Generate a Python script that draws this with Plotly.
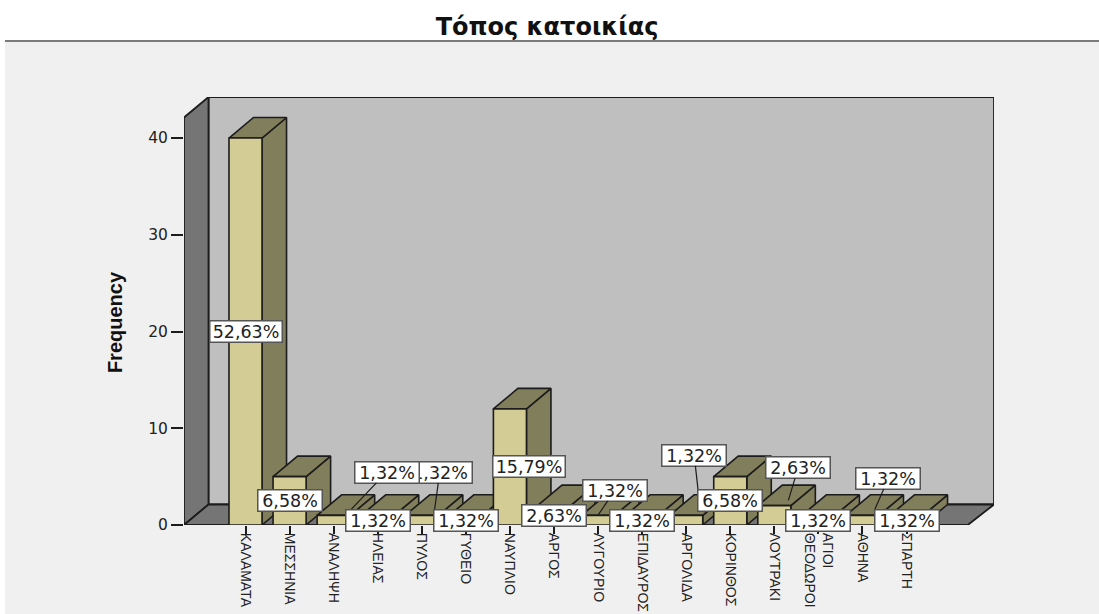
import plotly.graph_objects as go

title = "Τόπος κατοικίας"
y_title = "Frequency"
categories = ["ΚΑΛΑΜΑΤΑ", "ΜΕΣΣΗΝΙΑ", "ΑΝΑΛΗΨΗ", "ΗΛΕΙΑΣ", "ΠΥΛΟΣ", "ΓΥΘΕΙΟ", "ΝΑΥΠΛΙΟ", "ΑΡΓΟΣ",
              "ΛΥΓΟΥΡΙΟ", "ΕΠΙΔΑΥΡΟΣ", "ΑΡΓΟΛΙΔΑ", "ΚΟΡΙΝΘΟΣ", "ΛΟΥΤΡΑΚΙ", "ΑΓΙΟΙ<br>ΘΕΟΔΩΡΟΙ", "ΑΘΗΝΑ", "ΣΠΑΡΤΗ"]
frequency = [40, 5, 1, 1, 1, 1, 12, 2, 1, 1, 1, 5, 2, 1, 1, 1]
percent_labels = ["52,63%", "6,58%", "1,32%", "1,32%", "1,32%", "1,32%", "15,79%", "2,63%",
                  "1,32%", "1,32%", "1,32%", "6,58%", "2,63%", "1,32%", "1,32%", "1,32%"]
y_ticks = [0, 10, 20, 30, 40]

# label box centre, in pixels from the bar-front centre; leader tip likewise (None: no leader)
label_offset = {2: (53, -48), 4: (18, -48), 6: (19, 0), 8: (17, -30), 10: (8, -65), 12: (24, -48), 14: (26, -42)}
leader_tip = {2: (12, -5), 4: (12, -5), 8: (0, -5), 10: (13, -20), 12: (14, -15), 14: (12, -10)}
draw_order = [4, 2, 6, 8, 10, 12, 14, 0, 1, 3, 5, 7, 9, 11, 13, 15]

FRONT, TOPSIDE, INK = "#d3cd95", "#807e5b", "#1c1c1c"
WALL, GREYSIDE, BG = "#bfbfbf", "#757575", "#f0f0f0"
BAR_W, DX, DY = 0.75, 0.556, 2.12
X0, X1, Y1 = -1.396, 16.985, 44.24
FLOOR_R = 16.39


def poly(xs, ys, color, z, lw=1.6):
    return go.Scatter(x=xs + xs[:1], y=ys + ys[:1], mode="lines", fill="toself", fillcolor=color,
                      line=dict(color=INK, width=lw), cliponaxis=False, zorder=z,
                      hoverinfo="skip", showlegend=False)


fig = go.Figure()
fig.add_trace(poly([X0 + DX, X1, X1, X0 + DX], [DY, DY, Y1, Y1], WALL, -5, 1.8))
fig.add_trace(poly([X0, X0 + DX, X0 + DX, X0], [0, DY, Y1, Y1 - DY], GREYSIDE, -4, 1.8))
fig.add_trace(poly([X0, X0 + DX, X1, FLOOR_R], [0, DY, DY, 0], GREYSIDE, -3, 1.8))

for i, v in enumerate(frequency):
    l, r = i - BAR_W / 2, i + BAR_W / 2
    fig.add_trace(poly([r, r, r + DX, r + DX], [0, v, v + DY, DY], TOPSIDE, 2 * i))
    fig.add_trace(poly([l, r, r + DX, l + DX], [v, v, v + DY, v + DY], TOPSIDE, 2 * i))
    fig.add_trace(go.Bar(x=[i], y=[v], width=BAR_W, marker=dict(color=FRONT, line=dict(color=INK, width=1.6)),
                         cliponaxis=False, zorder=2 * i + 1, hoverinfo="skip", showlegend=False))

annotations = []
for i in draw_order:
    box = label_offset.get(i, (0, 0))
    a = dict(xref="x", yref="y", x=i, y=frequency[i] / 2, text=percent_labels[i],
             font=dict(family="DejaVu Sans", size=17.5, color="#222222"), bgcolor="white",
             bordercolor="#555555", borderwidth=1.5, width=71 if len(percent_labels[i]) > 5 else 63,
             height=20, borderpad=0, align="center")
    if i in leader_tip:
        tip = leader_tip[i]
        a.update(showarrow=True, arrowhead=0, arrowwidth=1.2, arrowcolor=INK, standoff=0,
                 xshift=tip[0], yshift=-tip[1], ax=box[0] - tip[0], ay=box[1] - tip[1])
    else:
        a.update(showarrow=False, xshift=box[0], yshift=-box[1])
    annotations.append(a)

annotations.insert(0, dict(xref="paper", yref="paper", x=-0.0852, y=0.474, xanchor="center", yanchor="middle",
                           text=f"<b>{y_title}</b>", textangle=-90, showarrow=False,
                           font=dict(family="Liberation Sans", size=20, color="#111111")))

shapes = [
    dict(type="rect", xref="paper", yref="paper", x0=-0.3, x1=1.2, y0=1.131, y1=1.3, layer="below",
         fillcolor="white", line_width=0),
    dict(type="rect", xref="paper", yref="paper", x0=-0.3, x1=-0.2210, y0=-0.3, y1=1.3, layer="below",
         fillcolor="white", line_width=0),
    dict(type="line", xref="paper", yref="paper", x0=-0.2210, x1=1.2, y0=1.131, y1=1.131, layer="below",
         line=dict(color="#7a7a7a", width=2)),
]

fig.update_layout(
    width=1099, height=614, autosize=False, margin=dict(l=184, r=105, t=97, b=89),
    paper_bgcolor=BG, plot_bgcolor="rgba(0,0,0,0)", showlegend=False, barmode="overlay",
    title=dict(text=f"<b>{title}</b>", x=547 / 1099, xanchor="center", y=1 - 27 / 614, yanchor="middle",
               font=dict(family="DejaVu Sans", size=24, color="#111111")),
    xaxis=dict(range=[X0, X1], tickmode="array", tickvals=list(range(len(categories))), ticktext=categories,
               tickangle=90, ticks="outside", ticklen=8, tickwidth=1.5, tickcolor=INK, showgrid=False,
               zeroline=False, showline=False, automargin=False, ticklabelstandoff=-4,
               tickfont=dict(family="Liberation Sans", size=14, color="#222222")),
    yaxis=dict(range=[0, Y1], tickmode="array", tickvals=y_ticks, ticks="outside", ticklen=12, tickwidth=1.5,
               tickcolor=INK, showgrid=False, zeroline=False, showline=False, automargin=False,
               tickfont=dict(family="DejaVu Sans", size=15.5, color="#222222")),
    annotations=annotations, shapes=shapes,
)

fig.write_html("out.html", config={"displayModeBar": False},
               post_script="document.body.style.margin='0';document.body.style.background='#f0f0f0';")
